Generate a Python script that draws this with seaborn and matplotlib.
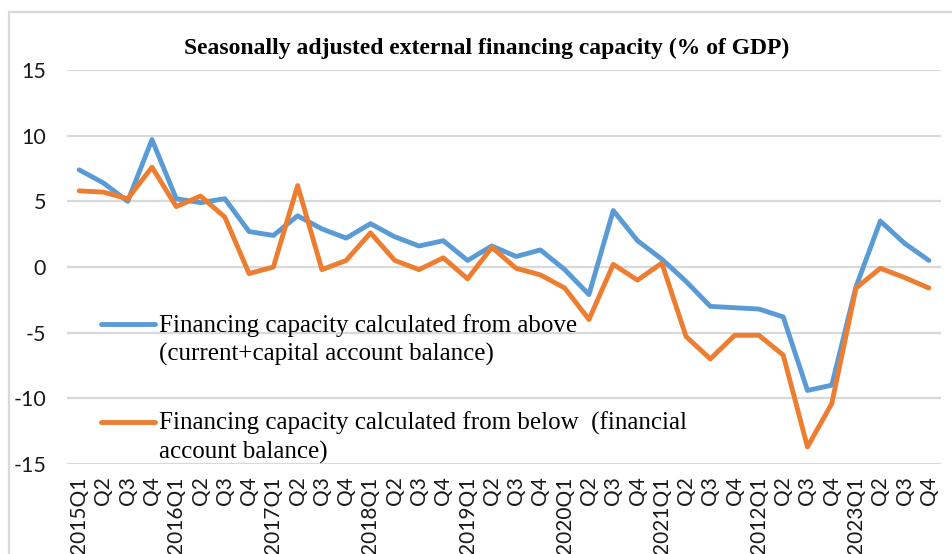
import matplotlib
matplotlib.use("Agg")
import matplotlib.pyplot as plt
from matplotlib.patches import Rectangle
from matplotlib.lines import Line2D
import seaborn as sns
import pandas as pd

# Quarterly tick labels, 2015Q1 .. 2023Q4 (as printed on the axis)
quarters = [
    "2015Q1", "Q2", "Q3", "Q4",
    "2016Q1", "Q2", "Q3", "Q4",
    "2017Q1", "Q2", "Q3", "Q4",
    "2018Q1", "Q2", "Q3", "Q4",
    "2019Q1", "Q2", "Q3", "Q4",
    "2020Q1", "Q2", "Q3", "Q4",
    "2021Q1", "Q2", "Q3", "Q4",
    "2012Q1", "Q2", "Q3", "Q4",
    "2023Q1", "Q2", "Q3", "Q4",
]

# Financing capacity, % of GDP, seasonally adjusted
from_above = [7.4, 6.4, 5.0, 9.7, 5.2, 4.9, 5.2, 2.7, 2.4, 3.9, 2.9, 2.2,
              3.3, 2.3, 1.6, 2.0, 0.5, 1.6, 0.8, 1.3, -0.2, -2.1, 4.3, 2.0,
              0.6, -1.1, -3.0, -3.1, -3.2, -3.8, -9.4, -9.0, -1.5, 3.5, 1.8, 0.5]
from_below = [5.8, 5.7, 5.2, 7.6, 4.6, 5.4, 3.8, -0.5, 0.0, 6.2, -0.2, 0.5,
              2.6, 0.5, -0.2, 0.7, -0.9, 1.5, -0.1, -0.6, -1.6, -4.0, 0.2, -1.0,
              0.3, -5.3, -7.0, -5.2, -5.2, -6.7, -13.7, -10.4, -1.6, -0.1, -0.8, -1.6]

series_names = [
    "Financing capacity calculated from above\n(current+capital account balance)",
    "Financing capacity calculated from below  (financial\naccount balance)",
]
title = "Seasonally adjusted external financing capacity (% of GDP)"
y_ticks = [-15, -10, -5, 0, 5, 10, 15]

BLUE = "#5b9bd5"
ORANGE = "#ed7d31"
GRID = "#d9d9d9"
LINE_W = 3.5

df = pd.DataFrame({
    "pos": list(range(len(quarters))) * 2,
    "value": from_above + from_below,
    "series": [series_names[0]] * len(quarters) + [series_names[1]] * len(quarters),
})

sns.set_theme(style="white")
plt.rcParams["font.family"] = ["Lato", "DejaVu Sans"]

W, H = 953, 554
fig = plt.figure(figsize=(W / 100, H / 100), dpi=100)
fig.patch.set_facecolor("white")

# outer chart frame
fig.patches.append(Rectangle((9 / W, -0.1), 1.2, (H - 12) / H + 0.1,
                             transform=fig.transFigure, fill=False,
                             edgecolor=GRID, lw=1.6, zorder=0))

left, right, top, bottom = 67, 941, 70, 464
ax = fig.add_axes([left / W, 1 - bottom / H, (right - left) / W, (bottom - top) / H])

sns.lineplot(data=df, x="pos", y="value", hue="series",
             palette=[BLUE, ORANGE], lw=LINE_W, ax=ax, legend=False,
             solid_joinstyle="round", solid_capstyle="round", zorder=3)

ax.set_xlim(-0.5, len(quarters) - 0.5)
ax.set_ylim(-15, 15)
ax.set_yticks(y_ticks)
ax.set_yticklabels([str(v) for v in y_ticks], fontsize=15.5, color="#1a1a1a")
ax.set_xticks(range(len(quarters)))
ax.set_xticklabels(quarters, rotation=90, fontsize=15, color="#1a1a1a",
                   va="top", ha="center")
ax.tick_params(axis="y", length=0, pad=15)
ax.tick_params(axis="x", length=0, pad=9)
ax.set_xlabel("")
ax.set_ylabel("")
for s in ax.spines.values():
    s.set_visible(False)
for v in y_ticks:
    ax.axhline(v, color=GRID, lw=1.6, zorder=1)

fig.text(487 / W, 1 - 48 / H, title, ha="center", va="center",
         fontsize=17, fontweight="bold", family="Liberation Serif", color="black")

# legend entries drawn inside the plot area
legend_rows = [(324, BLUE, series_names[0]), (422, ORANGE, series_names[1])]
for y_px, color, label in legend_rows:
    fig.add_artist(Line2D([101 / W, 155 / W], [1 - y_px / H] * 2, color=color,
                          lw=LINE_W, solid_capstyle="round", transform=fig.transFigure))
    fig.text(159 / W, 1 - (y_px - 10) / H, label, ha="left", va="top",
             fontsize=18, family="Liberation Serif", color="black",
             linespacing=1.32)

fig.savefig("out.png", dpi=100)
